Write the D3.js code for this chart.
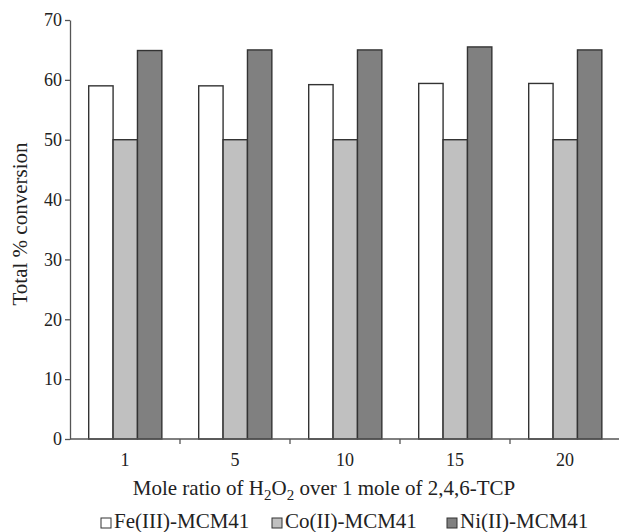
<!DOCTYPE html>
<meta charset="utf-8">
<head>
  <title>Total % conversion vs mole ratio</title>
</head>
<style>
  body { margin: 0; background: #fff; }
  text { font-family: "Liberation Serif", "Times New Roman", serif; fill: #222; }
  .axis path, .axis line { stroke: #555; stroke-width: 1.3; }
  .axis text { font-size: 18px; font-family: "Liberation Serif", serif; fill: #222; }
</style>
<body>
<div id="content"></div>
<script src="https://cdnjs.cloudflare.com/ajax/libs/d3/7.8.5/d3.min.js"></script>
<script>

// data
const ratios = ["1", "5", "10", "15", "20"]
const series = ["Fe(III)-MCM41", "Co(II)-MCM41", "Ni(II)-MCM41"]
const fe = [59.0, 59.0, 59.2, 59.4, 59.4]
const co = [50.0, 50.0, 50.0, 50.0, 50.0]
const ni = [64.9, 65.0, 65.0, 65.5, 65.0]
const yTicks = [0, 10, 20, 30, 40, 50, 60, 70]
const colors = ["#ffffff", "#c0c0c0", "#808080"]

const width = 619
const height = 532
const margin = {left: 70, right: 0, top: 20, bottom: 93}

const rows = ratios.map(function(r, i) {
  return {ratio: r, values: [fe[i], co[i], ni[i]]}
})

const svg = d3.select('#content')
  .append('svg')
    .attr('width', width)
    .attr('height', height)

var x = d3.scaleBand()
  .domain(ratios)
  .range([margin.left, 620])
  .padding(0)

var xs = d3.scaleBand()
  .domain(d3.range(series.length))
  .range([x.bandwidth() * 0.17, x.bandwidth() * 0.835])
  .padding(0)

var y = d3.scaleLinear()
  .domain([0, 70])
  .range([height - margin.bottom, margin.top])

// bars
var g = svg.append('g')
  .selectAll('g')
  .data(rows)
  .enter()
  .append('g')
    .attr('transform', function(d) { return 'translate(' + x(d.ratio) + ',0)' })

g.selectAll('rect')
  .data(function(d) { return d.values })
  .enter()
  .append('rect')
    .attr('x', function(d, i) { return xs(i) })
    .attr('width', xs.bandwidth())
    .attr('y', function(d) { return y(d) })
    .attr('height', function(d) { return y(0) - y(d) })
    .style('fill', function(d, i) { return colors[i] })
    .style('stroke', '#333')
    .style('stroke-width', 1.4)

// y axis
svg.append('g')
  .attr('class', 'axis')
  .attr('transform', 'translate(' + margin.left + ',0)')
  .call(d3.axisLeft(y).tickValues(yTicks).tickSize(5).tickSizeOuter(0).tickPadding(3))

// x axis: ticks at the group boundaries, labels centred in the groups
var xAxis = svg.append('g')
  .attr('class', 'axis')
  .attr('transform', 'translate(0,' + y(0) + ')')

xAxis.append('line')
  .attr('x1', margin.left)
  .attr('x2', width)
  .attr('y1', 0)
  .attr('y2', 0)

xAxis.selectAll('.bound')
  .data(ratios.slice(1))
  .enter()
  .append('line')
    .attr('class', 'bound')
    .attr('x1', function(d) { return x(d) })
    .attr('x2', function(d) { return x(d) })
    .attr('y1', 0)
    .attr('y2', 5)

xAxis.selectAll('.lab')
  .data(ratios)
  .enter()
  .append('text')
    .attr('class', 'lab')
    .attr('x', function(d) { return x(d) + x.bandwidth() / 2 })
    .attr('y', 27)
    .attr('text-anchor', 'middle')
    .text(function(d) { return d })

// axis titles
var xt = svg.append('text')
  .attr('x', 324)
  .attr('y', 495)
  .attr('text-anchor', 'middle')
  .style('font-size', '21px')
xt.append('tspan').text('Mole ratio of H')
xt.append('tspan').attr('dy', 5).style('font-size', '15px').text('2')
xt.append('tspan').attr('dy', -5).text('O')
xt.append('tspan').attr('dy', 5).style('font-size', '15px').text('2')
xt.append('tspan').attr('dy', -5).text(' over 1 mole of 2,4,6-TCP')

svg.append('text')
  .attr('transform', 'translate(27,224) rotate(-90)')
  .attr('text-anchor', 'middle')
  .style('font-size', '21px')
  .text('Total % conversion')

// legend
var legX = [101, 272, 447]
var leg = svg.append('g')
  .selectAll('g')
  .data(series)
  .enter()
  .append('g')
    .attr('transform', function(d, i) { return 'translate(' + legX[i] + ',518)' })

leg.append('rect')
  .attr('width', 10)
  .attr('height', 10)
  .style('fill', function(d, i) { return colors[i] })
  .style('stroke', '#333')
  .style('stroke-width', 1)

leg.append('text')
  .attr('x', 13)
  .attr('y', 10)
  .style('font-size', '21px')
  .text(function(d) { return d })

</script>
</body>
</html>
